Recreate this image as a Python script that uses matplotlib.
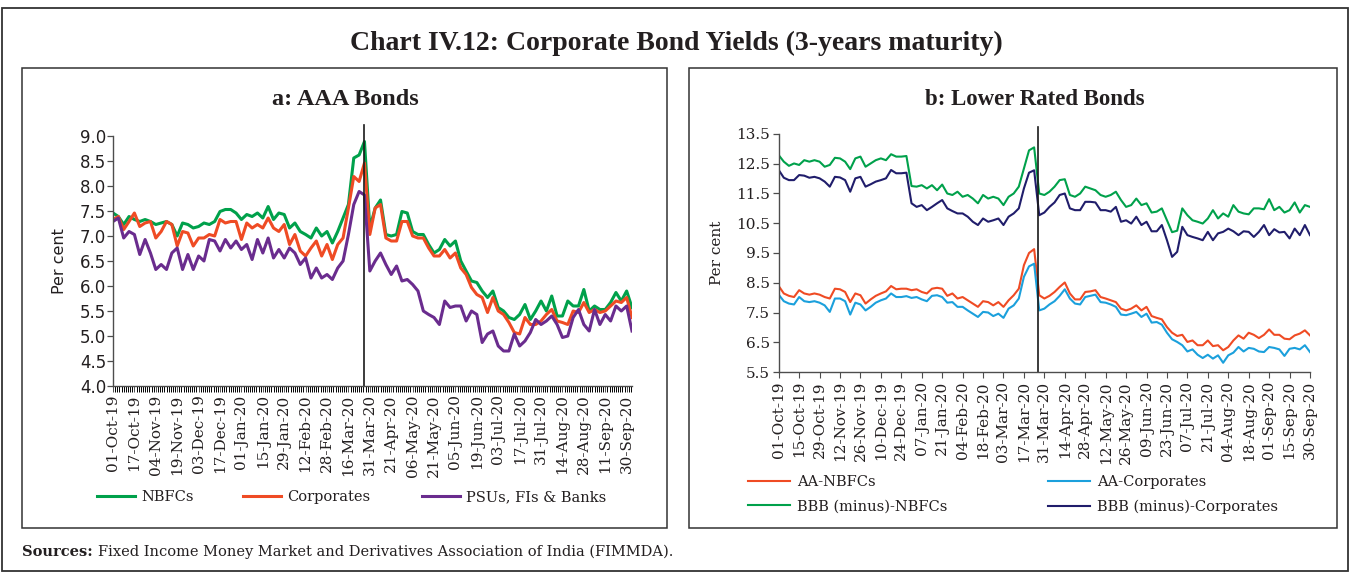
import numpy as np
import matplotlib
matplotlib.use("Agg")
import matplotlib.pyplot as plt
from matplotlib.patches import Rectangle
from matplotlib.legend import Legend
from matplotlib.ticker import FormatStrFormatter

plt.rcParams["font.family"] = "DejaVu Serif"

TEXT = "#231F20"
GREEN = "#00A14B"
RED = "#EF4B24"
PURPLE = "#6A2C8E"
SKY = "#1BA0DC"
NAVY = "#201D6B"

# ---------------- Panel a: AAA-rated 3-year bond yields (per cent) ----------------
labels_a = ["01-Oct-19", "17-Oct-19", "04-Nov-19", "19-Nov-19", "03-Dec-19", "17-Dec-19",
            "01-Jan-20", "15-Jan-20", "29-Jan-20", "12-Feb-20", "28-Feb-20", "16-Mar-20",
            "31-Mar-20", "21-Apr-20", "06-May-20", "21-May-20", "05-Jun-20", "19-Jun-20",
            "03-Jul-20", "17-Jul-20", "31-Jul-20", "14-Aug-20", "28-Aug-20", "11-Sep-20",
            "30-Sep-20"]

nbfc_aaa = [7.46, 7.39, 7.23, 7.39, 7.33, 7.29, 7.33, 7.29, 7.23, 7.26, 7.29, 7.23, 7.00, 7.26,
            7.23, 7.16, 7.19, 7.26, 7.23, 7.29, 7.49, 7.53, 7.53, 7.46, 7.33, 7.43, 7.39, 7.46,
            7.36, 7.59, 7.33, 7.46, 7.43, 7.16, 7.26, 7.09, 7.03, 6.96, 7.16, 7.00, 7.09, 6.86,
            7.09, 7.36, 7.63, 8.56, 8.62, 8.89,
            7.16, 7.56, 7.72, 7.03, 7.00, 7.03, 7.49, 7.46, 7.09, 7.03, 7.03, 6.83, 6.66, 6.73,
            6.93, 6.80, 6.90, 6.50, 6.30, 6.10, 6.07, 5.90, 5.77, 5.90, 5.57, 5.50, 5.37, 5.33,
            5.43, 5.63, 5.33, 5.50, 5.70, 5.50, 5.80, 5.40, 5.40, 5.70, 5.60, 5.60, 5.93, 5.50,
            5.60, 5.53, 5.53, 5.67, 5.87, 5.70, 5.90, 5.57]

corp_aaa = [7.33, 7.39, 7.13, 7.29, 7.46, 7.19, 7.26, 7.29, 6.96, 7.09, 7.29, 7.23, 6.80, 7.09,
            7.06, 6.80, 6.96, 6.96, 7.03, 7.00, 7.33, 7.26, 7.29, 7.29, 6.93, 7.26, 7.16, 7.23,
            7.16, 7.36, 7.16, 7.09, 7.23, 6.83, 7.03, 6.70, 6.60, 6.76, 6.90, 6.60, 6.83, 6.53,
            6.83, 6.96, 7.56, 8.19, 8.09, 8.46,
            7.03, 7.56, 7.63, 6.96, 6.90, 6.90, 7.29, 7.29, 7.00, 6.96, 6.96, 6.76, 6.60, 6.60,
            6.73, 6.56, 6.66, 6.36, 6.23, 5.97, 5.83, 5.77, 5.47, 5.77, 5.50, 5.43, 5.27, 5.07,
            5.04, 5.37, 5.23, 5.23, 5.30, 5.43, 5.53, 5.30, 5.27, 5.23, 5.50, 5.47, 5.67, 5.47,
            5.53, 5.47, 5.50, 5.60, 5.70, 5.67, 5.77, 5.37]

psu_aaa = [7.29, 7.36, 6.96, 7.09, 7.03, 6.63, 6.93, 6.66, 6.33, 6.43, 6.33, 6.66, 6.76, 6.33,
           6.63, 6.33, 6.60, 6.50, 6.93, 6.90, 6.70, 6.93, 6.76, 6.90, 6.73, 6.83, 6.53, 6.93,
           6.66, 6.96, 6.56, 6.73, 6.56, 6.76, 6.66, 6.43, 6.56, 6.16, 6.36, 6.16, 6.23, 6.13,
           6.36, 6.50, 7.03, 7.63, 7.89, 7.82,
           6.30, 6.50, 6.66, 6.43, 6.23, 6.40, 6.10, 6.13, 6.03, 5.90, 5.50, 5.43, 5.37, 5.23,
           5.70, 5.57, 5.60, 5.60, 5.30, 5.50, 5.43, 4.87, 5.04, 5.10, 4.80, 4.70, 4.70, 5.04,
           4.80, 4.90, 5.07, 5.33, 5.23, 5.30, 5.40, 5.23, 4.97, 5.00, 5.37, 5.53, 5.23, 5.10,
           5.53, 5.23, 5.43, 5.30, 5.60, 5.50, 5.60, 5.10]

# ---------------- Panel b: lower-rated 3-year bond yields (per cent) ----------------
labels_b = ["01-Oct-19", "15-Oct-19", "29-Oct-19", "12-Nov-19", "26-Nov-19", "10-Dec-19",
            "24-Dec-19", "07-Jan-20", "21-Jan-20", "04-Feb-20", "18-Feb-20", "03-Mar-20",
            "17-Mar-20", "31-Mar-20", "14-Apr-20", "28-Apr-20", "12-May-20", "26-May-20",
            "09-Jun-20", "23-Jun-20", "07-Jul-20", "21-Jul-20", "04-Aug-20", "18-Aug-20",
            "01-Sep-20", "15-Sep-20", "30-Sep-20"]

aa_nbfc = [8.39, 8.14, 8.06, 8.02, 8.25, 8.14, 8.10, 8.14, 8.10, 8.02, 7.97, 8.30, 8.28, 8.19,
           7.85, 8.14, 8.08, 7.80, 7.94, 8.06, 8.14, 8.21, 8.39, 8.28, 8.30, 8.30, 8.25, 8.28,
           8.19, 8.14, 8.30, 8.33, 8.30, 8.06, 8.14, 7.97, 8.02, 7.91, 7.80, 7.69, 7.88, 7.85,
           7.74, 7.85, 7.69, 7.91, 8.08, 8.30, 9.09, 9.50, 9.63,
           8.08,
           7.97, 8.06, 8.19, 8.36, 8.51, 8.14, 7.94, 7.94, 8.19, 8.21, 8.25, 8.02, 7.97, 7.91,
           7.85, 7.63, 7.57, 7.63, 7.74, 7.57, 7.69, 7.38, 7.32, 7.27, 7.01, 6.82, 6.71, 6.75,
           6.51, 6.56, 6.40, 6.40, 6.56, 6.37, 6.40, 6.23, 6.34, 6.56, 6.73, 6.62, 6.82, 6.75,
           6.64, 6.75, 6.93, 6.75, 6.75, 6.62, 6.60, 6.73, 6.79, 6.90, 6.73]

aa_corp = [8.10, 7.88, 7.80, 7.77, 8.02, 7.88, 7.85, 7.88, 7.83, 7.74, 7.52, 7.97, 7.97, 7.88,
           7.43, 7.83, 7.77, 7.57, 7.69, 7.83, 7.91, 7.97, 8.14, 8.02, 8.02, 8.05, 7.99, 8.02,
           7.94, 7.88, 8.06, 8.08, 8.02, 7.83, 7.85, 7.69, 7.69, 7.57, 7.46, 7.35, 7.52, 7.50,
           7.38, 7.46, 7.32, 7.63, 7.74, 7.97, 8.70, 9.05, 9.14,
           7.57,
           7.63, 7.77, 7.88, 8.06, 8.28, 7.97, 7.80, 7.77, 8.02, 8.06, 8.10, 7.85, 7.83, 7.77,
           7.69, 7.43, 7.41, 7.46, 7.52, 7.35, 7.46, 7.16, 7.18, 7.09, 6.82, 6.60, 6.51, 6.40,
           6.19, 6.26, 6.08, 5.97, 6.08, 5.95, 6.06, 5.81, 6.06, 6.15, 6.34, 6.19, 6.31, 6.28,
           6.19, 6.17, 6.34, 6.31, 6.26, 6.04, 6.28, 6.31, 6.26, 6.40, 6.17]

bbb_nbfc = [12.79, 12.57, 12.43, 12.51, 12.46, 12.62, 12.57, 12.62, 12.57, 12.40, 12.46, 12.70,
            12.68, 12.57, 12.32, 12.68, 12.74, 12.40, 12.51, 12.62, 12.68, 12.62, 12.82, 12.74,
            12.74, 12.76, 11.75, 11.73, 11.78, 11.67, 11.78, 11.61, 11.80, 11.50, 11.45, 11.56,
            11.39, 11.45, 11.33, 11.17, 11.45, 11.33, 11.39, 11.33, 11.11, 11.39, 11.50, 11.73,
            12.34, 12.95, 13.05,
            11.50,
            11.45, 11.56, 11.73, 11.95, 11.98, 11.45, 11.39, 11.50, 11.73, 11.67, 11.61, 11.45,
            11.39, 11.45, 11.56, 11.28, 11.05, 11.11, 11.33, 11.11, 11.17, 10.86, 10.89, 11.00,
            10.60, 10.20, 10.25, 11.00, 10.77, 10.60, 10.55, 10.49, 10.66, 10.94, 10.66, 10.83,
            10.72, 11.11, 10.89, 10.83, 10.80, 11.00, 11.00, 10.97, 11.31, 10.94, 11.05, 10.86,
            10.94, 11.20, 10.86, 11.11, 11.05]

bbb_corp = [12.29, 12.03, 11.95, 11.95, 12.12, 12.10, 12.03, 12.06, 12.01, 11.90, 11.73, 12.06,
            12.04, 11.95, 11.56, 12.01, 12.06, 11.73, 11.81, 11.90, 11.95, 12.01, 12.29, 12.18,
            12.18, 12.20, 11.17, 11.05, 11.11, 10.94, 11.05, 11.17, 11.28, 11.00, 10.91, 10.83,
            10.83, 10.72, 10.55, 10.44, 10.66, 10.55, 10.60, 10.66, 10.44, 10.72, 10.83, 11.00,
            11.67, 12.20, 12.28,
            10.77,
            10.86, 11.05, 11.20, 11.45, 11.50, 11.00, 10.94, 10.94, 11.22, 11.22, 11.20, 10.94,
            10.94, 10.89, 11.05, 10.55, 10.60, 10.49, 10.72, 10.44, 10.55, 10.23, 10.23, 10.44,
            9.93, 9.37, 9.54, 10.38, 10.10, 10.04, 9.99, 9.93, 10.21, 9.93, 10.16, 10.21,
            10.32, 10.23, 10.10, 10.23, 10.21, 10.04, 10.21, 10.44, 10.10, 10.30, 10.19, 10.21,
            9.99, 10.32, 10.10, 10.44, 10.10]

STEP = 4            # observations per labelled date interval
MARK_A = 47.0       # observation position of the late-March marker, panel a
MARK_B = 50.8       # same marker, panel b

# ---------------- figure and frames ----------------
W, H = 1351, 572
fig = plt.figure(figsize=(W / 100, H / 100), dpi=100)
fig.patch.set_facecolor("white")


def fx(px):
    return px / W


def fy(py):
    return 1 - py / H


def frame(x0, y0, x1, y1, **kw):
    fig.add_artist(Rectangle((fx(x0), fy(y1)), (x1 - x0) / W, (y1 - y0) / H,
                             transform=fig.transFigure, fill=False, **kw))


frame(2, 8, 1348, 571, ec="#333333", lw=1.3)
frame(22, 68, 667, 528, ec="#333333", lw=1.1)
frame(689, 68, 1337, 528, ec="#333333", lw=1.1)

fig.text(fx(676), fy(43), "Chart IV.12: Corporate Bond Yields (3-years maturity)",
         ha="center", va="center", fontsize=20, fontweight="bold",
         family="Liberation Serif", color=TEXT)
fig.text(fx(345), fy(99), "a: AAA Bonds", ha="center", va="center", fontsize=17.5,
         fontweight="bold", family="Liberation Serif", color=TEXT)
fig.text(fx(1035), fy(99), "b: Lower Rated Bonds", ha="center", va="center", fontsize=16.5,
         fontweight="bold", family="Liberation Serif", color=TEXT)


def style_axis(ax):
    for side in ("top", "right"):
        ax.spines[side].set_visible(False)
    for side in ("left", "bottom"):
        ax.spines[side].set_color("#4d4d4d")
        ax.spines[side].set_linewidth(1.0)
    ax.tick_params(colors="#4d4d4d", labelcolor=TEXT, direction="out")


def add_legend(ax, handles, x_px, y_px, hlen, **kw):
    leg = Legend(ax, handles, [h.get_label() for h in handles], loc="center left",
                 bbox_to_anchor=(fx(x_px), fy(y_px)), bbox_transform=fig.transFigure,
                 frameon=False, borderpad=0, borderaxespad=0, handlelength=hlen,
                 handletextpad=0.45, fontsize=10.5, labelcolor=TEXT, **kw)
    ax.add_artist(leg)


# ---------------- panel a ----------------
ax_a = fig.add_axes([fx(113), fy(386), (632 - 113) / W, (386 - 136) / H])
xa = np.arange(len(nbfc_aaa))
la_n, = ax_a.plot(xa, nbfc_aaa, color=GREEN, lw=2.2, label="NBFCs")
la_c, = ax_a.plot(xa, corp_aaa, color=RED, lw=2.2, label="Corporates")
la_p, = ax_a.plot(xa, psu_aaa, color=PURPLE, lw=2.2, label="PSUs, FIs & Banks")
ax_a.set_xlim(0, len(xa) - 1)
ax_a.set_ylim(4.0, 9.0)
ax_a.set_yticks(np.arange(4.0, 9.01, 0.5))
ax_a.yaxis.set_major_formatter(FormatStrFormatter("%.1f"))
ax_a.set_xticks(np.arange(len(labels_a)) * STEP)
ax_a.set_xticklabels(labels_a, rotation=90, fontsize=11)
ax_a.set_xticks(np.arange(0, len(xa) - 1 + 1e-9, 0.4), minor=True)
style_axis(ax_a)
ax_a.tick_params(axis="x", which="both", length=4, width=0.7, pad=2)
ax_a.tick_params(axis="y", length=4, width=0.9, pad=1, labelsize=12)
for lab in ax_a.get_yticklabels():
    lab.set_fontfamily("DejaVu Sans")
ax_a.set_ylabel("Per cent", family="DejaVu Sans", fontsize=11.5, color=TEXT)
ax_a.yaxis.set_label_coords((67 - 113) / 519, 0.5)
ax_a.plot([MARK_A, MARK_A], [0, 1.045], transform=ax_a.get_xaxis_transform(),
          color="#1a1a1a", lw=1.2, clip_on=False)
add_legend(ax_a, [la_n], 97, 497, 2.6)
add_legend(ax_a, [la_c], 243, 497, 2.6)
add_legend(ax_a, [la_p], 422, 497, 2.6)

# ---------------- panel b ----------------
ax_b = fig.add_axes([fx(778.7), fy(372), (1310 - 778.7) / W, (372 - 134) / H])
xb = np.arange(len(aa_nbfc))
lb_an, = ax_b.plot(xb, aa_nbfc, color=RED, lw=1.5, label="AA-NBFCs")
lb_ac, = ax_b.plot(xb, aa_corp, color=SKY, lw=1.5, label="AA-Corporates")
lb_bn, = ax_b.plot(xb, bbb_nbfc, color=GREEN, lw=1.5, label="BBB (minus)-NBFCs")
lb_bc, = ax_b.plot(xb, bbb_corp, color=NAVY, lw=1.5, label="BBB (minus)-Corporates")
ax_b.set_xlim(0, len(xb) - 1)
ax_b.set_ylim(5.5, 13.5)
ax_b.set_yticks(np.arange(5.5, 13.51, 1.0))
ax_b.yaxis.set_major_formatter(FormatStrFormatter("%.1f"))
ax_b.set_xticks(np.arange(len(labels_b)) * STEP)
ax_b.set_xticklabels(labels_b, rotation=90, fontsize=11)
style_axis(ax_b)
ax_b.tick_params(axis="x", length=4.5, width=0.8, pad=2)
ax_b.tick_params(axis="y", length=4.5, width=0.9, pad=2, labelsize=11)
ax_b.set_ylabel("Per cent", fontsize=11, color=TEXT)
ax_b.yaxis.set_label_coords((724 - 778.7) / 531.3, 0.5)
ax_b.plot([MARK_B, MARK_B], [0, 1.03], transform=ax_b.get_xaxis_transform(),
          color="#1a1a1a", lw=1.2, clip_on=False)
add_legend(ax_b, [lb_an, lb_bn], 748, 494.5, 2.9, labelspacing=0.7)
add_legend(ax_b, [lb_ac, lb_bc], 1048, 494.5, 2.9, labelspacing=0.7)

# ---------------- source note ----------------
renderer = fig.canvas.get_renderer()
src = fig.text(fx(22), fy(552), "Sources:", fontweight="bold", fontsize=10.5,
               va="center", ha="left", color=TEXT)
bb = src.get_window_extent(renderer=renderer)
fig.text(bb.x1 / W + fx(5), fy(552),
         "Fixed Income Money Market and Derivatives Association of India (FIMMDA).",
         fontsize=10.5, va="center", ha="left", color=TEXT)

fig.savefig("out.png", dpi=100)
